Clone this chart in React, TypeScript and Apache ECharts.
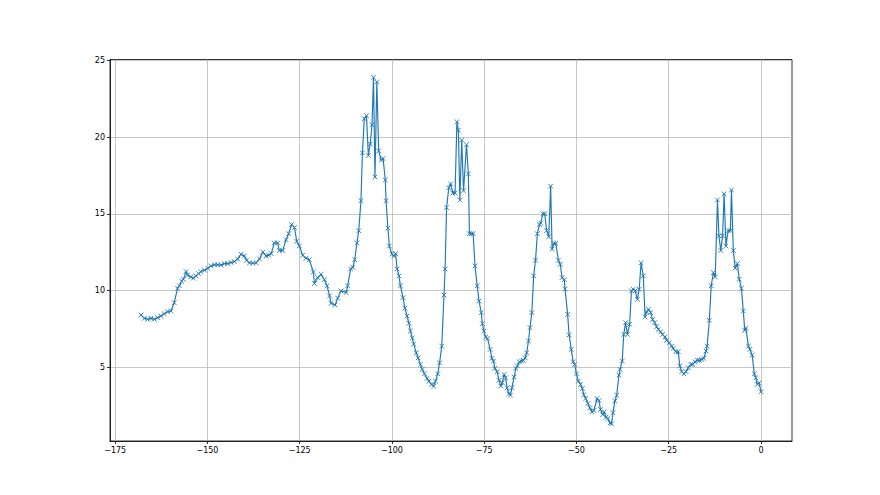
import React, { useEffect, useRef } from "react";
import * as echarts from "echarts";

const xs: number[] = [
  -168.0, -167.1, -166.2, -165.3, -164.4, -163.5, -162.6, -161.7, -160.8, -159.9,
  -159.0, -158.1, -157.6, -157.0, -156.5, -155.8, -155.4, -154.5, -153.8, -153.1,
  -152.4, -151.8, -150.8, -149.9, -149.0, -148.1, -147.2, -146.3, -145.4, -144.5,
  -143.6, -142.7, -141.8, -140.9, -140.0, -139.4, -138.6, -137.7, -136.8, -135.9,
  -135.0, -134.1, -133.4, -132.7, -131.9, -131.0, -130.5, -129.6, -128.7, -128.0,
  -127.2, -126.4, -125.8, -125.1, -124.2, -123.3, -122.4, -121.3, -121.0, -120.1,
  -119.2, -118.3, -117.6, -116.9, -116.5, -115.4, -114.7, -113.8, -112.4, -112.0,
  -111.2, -110.6, -110.1, -109.5, -109.0, -108.4, -108.0, -107.5, -106.9, -106.4,
  -105.9, -105.4, -105.0, -104.6, -104.1, -103.6, -102.9, -102.4, -101.8, -101.6,
  -101.1, -100.7, -100.0, -99.5, -99.0, -98.6, -98.1, -97.7, -97.0, -96.5,
  -95.9, -95.4, -95.0, -94.5, -94.1, -93.4, -92.9, -92.3, -91.8, -91.2,
  -90.5, -90.0, -89.3, -88.7, -88.2, -87.6, -87.1, -86.5, -85.9, -85.6,
  -85.2, -84.6, -84.1, -83.5, -82.9, -82.4, -82.0, -81.6, -81.1, -80.6,
  -79.8, -79.3, -79.0, -78.5, -78.0, -77.5, -76.9, -76.4, -75.8, -75.5,
  -75.1, -74.6, -74.1, -73.4, -72.9, -72.5, -72.1, -71.5, -71.0, -70.5,
  -70.1, -69.6, -69.2, -68.8, -68.3, -67.9, -67.5, -66.9, -66.4, -66.0,
  -65.5, -64.9, -64.4, -63.9, -63.5, -63.0, -62.6, -62.1, -61.6, -61.1,
  -60.6, -60.0, -59.7, -59.1, -58.6, -58.1, -57.5, -57.0, -56.6, -56.2,
  -55.6, -54.9, -54.4, -53.9, -53.3, -53.1, -52.4, -52.0, -51.4, -50.9,
  -50.5, -50.0, -49.5, -48.9, -48.4, -48.0, -47.5, -46.9, -46.4, -45.8,
  -45.3, -44.4, -43.9, -43.5, -42.9, -42.5, -42.0, -41.5, -40.9, -40.5,
  -40.1, -39.6, -39.1, -38.5, -38.2, -37.6, -37.2, -36.7, -36.2, -35.6,
  -35.1, -34.6, -34.1, -33.5, -33.0, -32.5, -31.9, -31.4, -31.0, -30.5,
  -29.9, -29.4, -28.8, -28.3, -27.8, -27.2, -26.7, -26.0, -25.6, -24.9,
  -24.2, -23.8, -23.1, -22.4, -22.0, -21.5, -20.9, -20.3, -19.7, -19.0,
  -18.5, -17.9, -17.2, -16.7, -16.1, -15.5, -14.9, -14.6, -14.0, -13.5,
  -12.9, -12.4, -11.8, -11.4, -10.9, -10.4, -10.0, -9.5, -8.9, -8.3,
  -8.0, -7.5, -7.0, -6.4, -5.9, -5.3, -4.8, -4.4, -4.1, -3.4,
  -3.0, -2.4, -1.8, -1.4, -1.0, -0.5, 0.0,
];

const ys: number[] = [
  8.4, 8.18, 8.12, 8.18, 8.12, 8.22, 8.33, 8.48, 8.61, 8.66,
  9.2, 10.14, 10.3, 10.6, 10.73, 11.23, 11.0, 10.88, 10.8, 10.95,
  11.1, 11.23, 11.32, 11.45, 11.6, 11.67, 11.67, 11.65, 11.75, 11.75,
  11.82, 11.88, 12.04, 12.36, 12.25, 11.97, 11.8, 11.78, 11.8, 12.06,
  12.5, 12.25, 12.3, 12.4, 13.1, 13.1, 12.6, 12.6, 13.3, 13.7,
  14.3, 14.1, 13.2, 12.9, 12.3, 12.1, 12.0, 11.2, 10.45, 10.84,
  11.05, 10.7, 10.3, 9.64, 9.16, 9.05, 9.5, 9.97, 9.86, 10.3,
  11.4, 11.5, 12.0, 13.1, 13.9, 15.85, 18.97, 21.2, 21.4, 18.8,
  19.55, 20.8, 23.9, 17.4, 23.6, 19.1, 18.5, 18.6, 17.2, 15.85,
  14.06, 12.9, 12.36, 12.25, 12.4, 11.4, 10.95, 10.3, 9.53, 8.84,
  8.33, 7.86, 7.35, 6.9, 6.5, 5.93, 5.6, 5.18, 4.85, 4.56,
  4.26, 4.08, 3.87, 3.76, 4.08, 4.56, 5.28, 6.37, 9.7, 11.4,
  15.4, 16.7, 16.95, 16.35, 16.35, 21.0, 20.45, 15.9, 19.8, 16.5,
  19.5, 17.6, 13.7, 13.7, 13.7, 11.6, 10.3, 9.3, 8.55, 7.83,
  7.35, 6.96, 6.87, 6.15, 5.57, 5.39, 4.92, 4.7, 4.13, 3.76,
  3.98, 4.52, 4.3, 3.65, 3.26, 3.17, 3.65, 4.35, 4.92, 5.07,
  5.35, 5.39, 5.44, 5.6, 5.93, 6.7, 7.57, 8.55, 10.95, 11.97,
  13.7, 14.3, 14.4, 15.0, 15.0, 13.9, 13.5, 16.8, 12.7, 13.07,
  13.07, 11.97, 11.7, 10.84, 10.7, 10.1, 8.44, 7.1, 6.15, 5.35,
  5.17, 4.56, 4.08, 3.87, 3.6, 3.2, 2.95, 2.63, 2.34, 2.08,
  2.17, 2.95, 2.82, 2.24, 1.9, 2.08, 1.73, 1.65, 1.36, 1.3,
  2.02, 2.78, 3.17, 4.48, 4.85, 5.39, 7.13, 7.9, 7.13, 7.79,
  9.97, 10.08, 9.97, 9.42, 10.08, 11.8, 10.95, 8.27, 8.6, 8.77,
  8.55, 8.11, 7.9, 7.63, 7.46, 7.3, 7.13, 6.96, 6.74, 6.59,
  6.37, 6.22, 6.0, 6.0, 5.07, 4.7, 4.56, 4.7, 4.96, 5.17,
  5.17, 5.35, 5.44, 5.44, 5.5, 5.57, 6.05, 6.37, 8.05, 10.3,
  11.16, 10.88, 15.9, 13.56, 12.6, 13.56, 16.3, 12.9, 13.9, 13.9,
  16.55, 12.6, 11.45, 11.75, 10.73, 10.14, 8.66, 7.4, 7.53, 6.37,
  6.16, 5.78, 4.56, 4.3, 3.87, 3.97, 3.39,
];

const xTicks: number[] = [-175, -150, -125, -100, -75, -50, -25, 0];
const yTicks: number[] = [5, 10, 15, 20, 25];

const minus = (v: number) => String(v).replace("-", "\u2212");

export default function App() {
  const ref = useRef<HTMLDivElement>(null);
  useEffect(() => {
    if (!ref.current) return;
    const chart = echarts.init(ref.current, null, { renderer: "svg" });
    const n = Math.min(xs.length, ys.length);
    const data = xs.slice(0, n).map((x, i) => [x, ys[i]]);
    const axisCommon = {
      type: "value" as const,
      axisLine: { show: true, onZero: false, lineStyle: { color: "#000", width: 0.8 } },
      axisTick: { show: true, inside: false, length: 3, lineStyle: { color: "#000", width: 0.8 } },
      splitLine: { show: true, lineStyle: { color: "#b0b0b0", width: 0.7 } },
      axisLabel: {
        color: "#000",
        fontSize: 8,
        fontFamily: "DejaVu Sans",
        margin: 5,
        formatter: (v: number) => minus(v),
      },
    };
    chart.setOption({
      animation: false,
      backgroundColor: "#fff",
      grid: {
        left: 110,
        top: 59.5,
        width: 682,
        height: 381.5,
        show: true,
        borderColor: "#000",
        borderWidth: 0.8,
        backgroundColor: "transparent",
        containLabel: false,
      },
      xAxis: {
        ...axisCommon,
        position: "bottom",
        min: -176.4,
        max: 8.4,
        axisTick: { ...axisCommon.axisTick, customValues: xTicks },
        axisLabel: { ...axisCommon.axisLabel, customValues: xTicks },
      },
      yAxis: {
        ...axisCommon,
        position: "left",
        min: 0.18,
        max: 25.06,
        axisTick: { ...axisCommon.axisTick, customValues: yTicks },
        axisLabel: { ...axisCommon.axisLabel, customValues: yTicks },
      },
      series: [
        {
          type: "line",
          data,
          symbol: "path://M0,0L10,10M10,0L0,10",
          symbolSize: 4.6,
          showAllSymbol: true,
          lineStyle: { color: "#1f77b4", width: 1.15 },
          itemStyle: { color: "none", borderColor: "#1f77b4", borderWidth: 0.9 },
        },
      ],
    });
    return () => chart.dispose();
  }, []);
  return (
    <div
      ref={ref}
      style={{ position: "fixed", left: 0, top: 0, width: 880, height: 495, background: "#fff" }}
    />
  );
}
